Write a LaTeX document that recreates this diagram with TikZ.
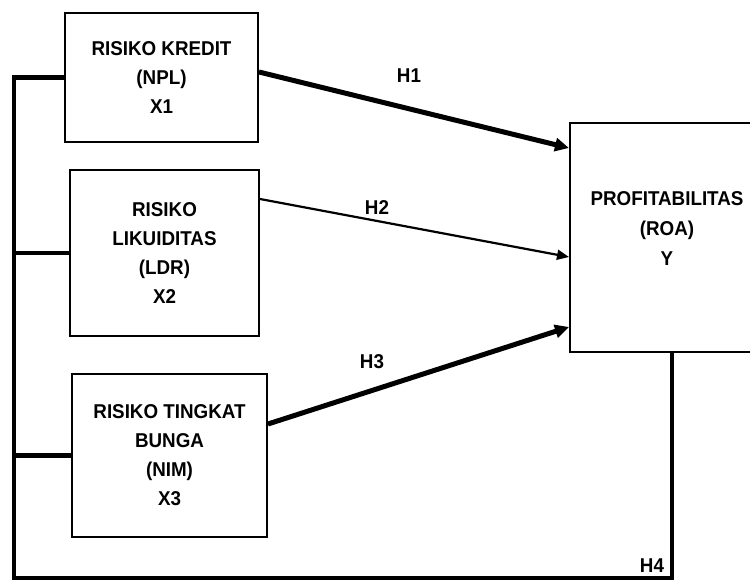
\documentclass[tikz,border=0pt]{standalone}
\usepackage{fontspec}
\setmainfont[FakeStretch=0.94]{Liberation Sans}
\usetikzlibrary{arrows.meta}

\begin{document}
\begin{tikzpicture}[x=1pt, y=-1pt,
    var/.style={draw, line width=2pt, align=center, inner sep=0pt,
        font=\bfseries\fontsize{20}{29}\selectfont},
    txt/.style={align=center, font=\bfseries\fontsize{20}{30}\selectfont},
    hyp/.style={font=\bfseries\fontsize{20}{23}\selectfont},
    thickpath/.style={line width=5pt, -{Triangle[length=14pt,width=13pt]}},
    thinpath/.style={line width=2.2pt, -{Triangle[length=12pt,width=10pt]}},
    bus/.style={line width=4.5pt}]

\def\bottomy{578}
\def\busx{14}

\useasboundingbox (0,0) rectangle (750,583);
\clip (0,0) rectangle (750,583);

% variables
\node[var, minimum width=193pt, minimum height=129pt] (x1) at (161.5,77.5)
    {RISIKO KREDIT\\(NPL)\\X1};
\node[var, minimum width=189pt, minimum height=166pt] (x2) at (164.5,253)
    {RISIKO\\LIKUIDITAS\\(LDR)\\X2};
\node[var, minimum width=195pt, minimum height=163pt] (x3) at (169.5,455.5)
    {RISIKO TINGKAT\\BUNGA\\(NIM)\\X3};
\node[var, minimum width=194pt, minimum height=229pt] (roa) at (667,237.5) {};
\node[txt] (roatxt) at ([yshift=9pt]roa.center) {PROFITABILITAS\\(ROA)\\Y};

% hypotheses
\draw[thickpath] ([yshift=5.5pt]x1.east) -- ([yshift=89.5pt]roa.west);
\draw[thinpath] ([yshift=54pt]x2.east) -- ([yshift=-19.5pt]roa.west);
\draw[thickpath] ([yshift=31.5pt]x3.east) -- ([yshift=-89.5pt]roa.west);

\node[hyp] (h1) at (409,76) {H1};
\node[hyp] (h2) at (377,208) {H2};
\node[hyp] (h3) at (372,362) {H3};
\node[hyp] (h4) at (652,566) {H4};

% simultaneous path
\coordinate (corner) at (672,\bottomy);
\coordinate (base) at (\busx,\bottomy);
\draw[bus] ([xshift=5pt]roa.south) -- (corner) -- (base) -- (base |- x1.west) -- (x1.west);
\draw[bus] (x2.west) -- (x2.west -| base);
\draw[bus] (x3.west) -- (x3.west -| base);

\end{tikzpicture}
\end{document}
